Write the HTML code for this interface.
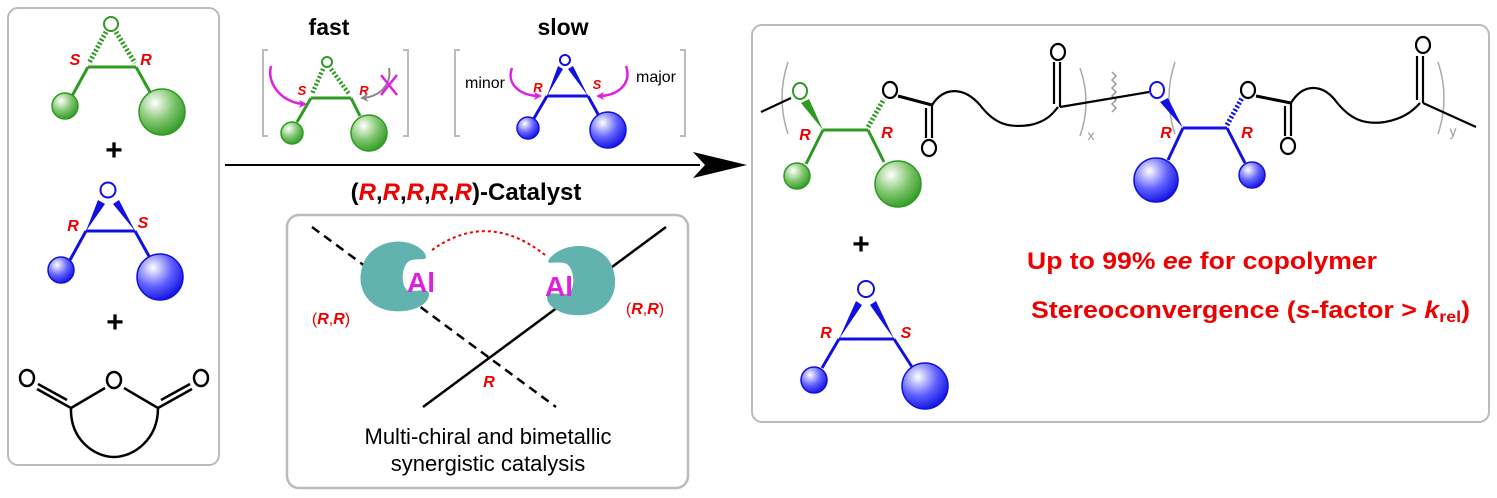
<!DOCTYPE html>
<html><head><meta charset="utf-8"><style>
html,body{margin:0;padding:0;background:#fff}
svg{display:block}
text{font-family:"Liberation Sans",Arial,sans-serif}
</style></head><body>
<svg width="1497" height="498" viewBox="0 0 1497 498" xmlns="http://www.w3.org/2000/svg">
<defs>
<radialGradient id="gg" cx="0.35" cy="0.3" r="0.75"><stop offset="0" stop-color="#fff"/><stop offset="0.55" stop-color="#7dc46a"/><stop offset="1" stop-color="#2f9a26"/></radialGradient>
<radialGradient id="bg" cx="0.35" cy="0.3" r="0.75"><stop offset="0" stop-color="#fff"/><stop offset="0.55" stop-color="#6060ff"/><stop offset="1" stop-color="#1010e0"/></radialGradient>
<marker id="mg" markerWidth="8" markerHeight="8" refX="6" refY="4" orient="auto" markerUnits="userSpaceOnUse"><path d="M0,0 L8,4 L0,8 L2,4z" fill="#e020e0"/></marker>
<marker id="gr" markerWidth="8" markerHeight="8" refX="6" refY="4" orient="auto" markerUnits="userSpaceOnUse"><path d="M0,0 L8,4 L0,8 L2,4z" fill="#888"/></marker>
</defs>

<!-- boxes -->
<rect x="8" y="8" width="211" height="457" rx="10" fill="none" stroke="#bbb" stroke-width="2"/>
<rect x="752" y="25" width="737" height="397" rx="10" fill="none" stroke="#bbb" stroke-width="2"/>
<rect x="287" y="215" width="401" height="273" rx="12" fill="none" stroke="#bbb" stroke-width="2.5"/>

<!-- left green epoxide -->
<g stroke="#2e9a22" stroke-width="3" fill="none">
<circle cx="111" cy="24" r="7" stroke-width="2"/>
<line x1="88" y1="67" x2="136" y2="67"/>
<line x1="88" y1="67" x2="72" y2="96"/>
<line x1="136" y1="67" x2="150" y2="92"/>
<line x1="106" y1="32" x2="89" y2="63" stroke-width="5" stroke-dasharray="2,2"/>
<line x1="116" y1="32" x2="135" y2="63" stroke-width="5" stroke-dasharray="2,2"/>
</g>
<circle cx="65" cy="106" r="13" fill="url(#gg)" stroke="#2e9a22" stroke-width="1.5"/>
<circle cx="162" cy="112" r="23" fill="url(#gg)" stroke="#2e9a22" stroke-width="1.5"/>
<text x="75" y="65" fill="#e00" font-size="16" font-weight="bold" font-style="italic" text-anchor="middle">S</text>
<text x="146" y="65" fill="#e00" font-size="16" font-weight="bold" font-style="italic" text-anchor="middle">R</text>
<text x="114" y="160" font-size="30" font-weight="bold" text-anchor="middle">+</text>

<!-- left blue epoxide -->
<g stroke="#1010e0" stroke-width="3" fill="none">
<circle cx="108" cy="190" r="7.5" stroke-width="2"/>
<line x1="86" y1="231" x2="135" y2="231"/>
<line x1="86" y1="231" x2="70" y2="260"/>
<line x1="135" y1="231" x2="150" y2="258"/>
</g>
<polygon points="86,231 98,200 105,204" fill="#1010e0"/>
<polygon points="135,231 113,204 119,200" fill="#1010e0"/>
<circle cx="61" cy="270" r="13" fill="url(#bg)" stroke="#1010e0" stroke-width="1.5"/>
<circle cx="160" cy="277" r="23" fill="url(#bg)" stroke="#1010e0" stroke-width="1.5"/>
<text x="73" y="231" fill="#e00" font-size="16" font-weight="bold" font-style="italic" text-anchor="middle">R</text>
<text x="143" y="228" fill="#e00" font-size="16" font-weight="bold" font-style="italic" text-anchor="middle">S</text>
<text x="115" y="332" font-size="30" font-weight="bold" text-anchor="middle">+</text>

<!-- anhydride -->
<g stroke="#000" stroke-width="2.5" fill="none">
<ellipse cx="27" cy="378" rx="7" ry="8"/>
<ellipse cx="114" cy="380" rx="7" ry="8"/>
<ellipse cx="201" cy="378" rx="7" ry="8"/>
<line x1="71" y1="408" x2="105" y2="388"/>
<line x1="158" y1="408" x2="124" y2="388"/>
<line x1="71" y1="408" x2="37" y2="389"/>
<line x1="67" y1="400" x2="38" y2="384"/>
<line x1="158" y1="408" x2="192" y2="389"/>
<line x1="161" y1="400" x2="190" y2="384"/>
<path d="M71,408 C70,440 95,457 114,457 C133,457 158,440 158,408"/>
</g>

<!-- fast / slow -->
<text x="329" y="35" font-size="23" font-weight="bold" text-anchor="middle">fast</text>
<text x="563" y="35" font-size="23" font-weight="bold" text-anchor="middle">slow</text>
<g stroke="#bbb" stroke-width="2" fill="none">
<polyline points="268,50 263,50 263,136 268,136"/>
<polyline points="403,50 408,50 408,136 403,136"/>
<polyline points="460,50 455,50 455,136 460,136"/>
<polyline points="680,50 685,50 685,136 680,136"/>
</g>
<g stroke="#2e9a22" stroke-width="3" fill="none">
<circle cx="327" cy="62" r="5" stroke-width="2"/>
<line x1="311" y1="98" x2="351" y2="98"/>
<line x1="311" y1="98" x2="297" y2="122"/>
<line x1="351" y1="98" x2="360" y2="116"/>
<line x1="323" y1="69" x2="312" y2="94" stroke-width="4.5" stroke-dasharray="2,2"/>
<line x1="331" y1="69" x2="349" y2="94" stroke-width="4.5" stroke-dasharray="2,2"/>
</g>
<circle cx="292" cy="133" r="11" fill="url(#gg)" stroke="#2e9a22" stroke-width="1.5"/>
<circle cx="369" cy="133" r="18" fill="url(#gg)" stroke="#2e9a22" stroke-width="1.5"/>
<text x="302" y="95" fill="#e00" font-size="13" font-weight="bold" font-style="italic" text-anchor="middle">S</text>
<text x="364" y="95" fill="#e00" font-size="13" font-weight="bold" font-style="italic" text-anchor="middle">R</text>
<path d="M271,66 C266,86 285,104 305,104" stroke="#e020e0" stroke-width="2.5" fill="none" marker-end="url(#mg)"/>
<path d="M389,68 C392,84 380,97 362,98" stroke="#888" stroke-width="2" fill="none" marker-end="url(#gr)"/>
<line x1="381" y1="75" x2="397" y2="95" stroke="#e020e0" stroke-width="2.5"/>
<line x1="397" y1="75" x2="381" y2="95" stroke="#e020e0" stroke-width="2.5"/>

<g stroke="#1010e0" stroke-width="3" fill="none">
<circle cx="565" cy="60" r="5" stroke-width="2"/>
<line x1="547" y1="96" x2="588" y2="96"/>
<line x1="547" y1="96" x2="533" y2="120"/>
<line x1="588" y1="96" x2="599" y2="116"/>
</g>
<polygon points="547,96 558,66 563,69" fill="#1010e0"/>
<polygon points="588,96 568,69 573,66" fill="#1010e0"/>
<circle cx="528" cy="128" r="11" fill="url(#bg)" stroke="#1010e0" stroke-width="1.5"/>
<circle cx="608" cy="130" r="18" fill="url(#bg)" stroke="#1010e0" stroke-width="1.5"/>
<text x="538" y="92" fill="#e00" font-size="13" font-weight="bold" font-style="italic" text-anchor="middle">R</text>
<text x="597" y="89" fill="#e00" font-size="13" font-weight="bold" font-style="italic" text-anchor="middle">S</text>
<text x="485" y="88" font-size="16" text-anchor="middle">minor</text>
<text x="656" y="82" font-size="16" text-anchor="middle">major</text>
<path d="M512,68 C506,84 520,96 540,96" stroke="#e020e0" stroke-width="2.5" fill="none" marker-end="url(#mg)"/>
<path d="M626,66 C632,84 618,96 598,96" stroke="#e020e0" stroke-width="2.5" fill="none" marker-end="url(#mg)"/>

<!-- main arrow -->
<line x1="225" y1="165" x2="700" y2="165" stroke="#000" stroke-width="2"/>
<polygon points="747,165 693,152 705,165 693,178" fill="#000"/>
<text x="466" y="200" font-size="24" font-weight="bold" text-anchor="middle">(<tspan fill="#e00" font-style="italic">R</tspan>,<tspan fill="#e00" font-style="italic">R</tspan>,<tspan fill="#e00" font-style="italic">R</tspan>,<tspan fill="#e00" font-style="italic">R</tspan>,<tspan fill="#e00" font-style="italic">R</tspan>)-Catalyst</text>

<!-- catalyst box -->
<line x1="312" y1="227" x2="556" y2="407" stroke="#000" stroke-width="2.5" stroke-dasharray="9,6"/>
<line x1="423" y1="407" x2="666" y2="227" stroke="#000" stroke-width="2.5"/>
<path d="M432,250 Q488,210 545,255" stroke="#e00" stroke-width="2" fill="none" stroke-dasharray="3,3"/>
<path d="M424,252 C410,236 375,238 364,262 C354,285 366,308 392,311 C412,313 428,305 429,295 C430,288 420,291 410,291 C400,291 400,262 412,260 C422,258 430,262 424,252z" fill="#62b2b0"/>
<path d="M550,258 C566,240 602,242 612,266 C621,289 610,312 584,315 C564,317 548,308 547,298 C546,291 556,294 566,294 C576,294 576,265 564,263 C554,261 544,266 550,258z" fill="#62b2b0"/>
<text x="421" y="292" fill="#e020e0" font-size="28" font-weight="bold" text-anchor="middle">Al</text>
<text x="559" y="296" fill="#e020e0" font-size="28" font-weight="bold" text-anchor="middle">Al</text>
<text x="331" y="324" fill="#e00" font-size="16" text-anchor="middle">(<tspan font-weight="bold" font-style="italic">R</tspan>,<tspan font-weight="bold" font-style="italic">R</tspan>)</text>
<text x="645" y="314" fill="#e00" font-size="16" text-anchor="middle">(<tspan font-weight="bold" font-style="italic">R</tspan>,<tspan font-weight="bold" font-style="italic">R</tspan>)</text>
<text x="489" y="387" fill="#e00" font-size="16" font-weight="bold" font-style="italic" text-anchor="middle">R</text>
<text x="488" y="444" font-size="22" text-anchor="middle">Multi-chiral and bimetallic</text>
<text x="488" y="471" font-size="22" text-anchor="middle">synergistic catalysis</text>

<!-- polymer -->
<g stroke="#aaa" stroke-width="1.5" fill="none">
<path d="M788,62 Q776,98 788,134"/>
<path d="M1080,68 Q1092,102 1080,136"/>
<path d="M1175,62 Q1163,98 1175,134"/>
<path d="M1438,62 Q1450,98 1438,134"/>
<path d="M1112,72 l4,4 l-4,4 l4,4 l-4,4 l4,4 l-4,4 l4,4 l-4,4 l4,4 l-4,4" stroke="#999"/>
</g>
<text x="1091" y="140" fill="#999" font-size="14" text-anchor="middle">x</text>
<text x="1453" y="136" fill="#999" font-size="14" text-anchor="middle">y</text>
<g stroke="#000" stroke-width="2.2" fill="none">
<line x1="761" y1="112" x2="791" y2="98"/>
<ellipse cx="890" cy="90" rx="7" ry="8"/>
<line x1="898" y1="96" x2="932" y2="105" stroke-width="3"/>
<line x1="932" y1="105" x2="932" y2="138"/>
<line x1="926" y1="108" x2="926" y2="138"/>
<ellipse cx="929" cy="148" rx="7" ry="8"/>
<path d="M932,105 C945,85 965,88 980,105 C995,125 1010,128 1030,125 C1045,122 1052,115 1058,107"/>
<line x1="1060" y1="107" x2="1060" y2="62"/>
<line x1="1054" y1="104" x2="1054" y2="62"/>
<ellipse cx="1058" cy="52" rx="7" ry="8"/>
<line x1="1060" y1="107" x2="1149" y2="92"/>
<ellipse cx="1248" cy="90" rx="7" ry="8"/>
<line x1="1256" y1="96" x2="1291" y2="103" stroke-width="3"/>
<line x1="1291" y1="103" x2="1291" y2="136"/>
<line x1="1285" y1="106" x2="1285" y2="136"/>
<ellipse cx="1288" cy="146" rx="7" ry="8"/>
<path d="M1291,103 C1303,83 1322,84 1335,100 C1350,120 1365,125 1385,122 C1402,119 1412,112 1420,103"/>
<line x1="1423" y1="103" x2="1423" y2="56"/>
<line x1="1417" y1="100" x2="1417" y2="56"/>
<ellipse cx="1423" cy="45" rx="7" ry="8"/>
<line x1="1423" y1="103" x2="1476" y2="127"/>
</g>
<g stroke="#2e9a22" stroke-width="3" fill="none">
<ellipse cx="800" cy="91" rx="7" ry="8" stroke-width="2"/>
<line x1="823" y1="130" x2="868" y2="130"/>
<line x1="823" y1="130" x2="806" y2="164"/>
<line x1="868" y1="130" x2="884" y2="162"/>
<line x1="868" y1="127" x2="884" y2="99" stroke-width="5" stroke-dasharray="2,2"/>
</g>
<polygon points="823,130 801,103 809,99" fill="#2e9a22"/>
<circle cx="797" cy="176" r="13" fill="url(#gg)" stroke="#2e9a22" stroke-width="1.5"/>
<circle cx="898" cy="184" r="23" fill="url(#gg)" stroke="#2e9a22" stroke-width="1.5"/>
<text x="805" y="140" fill="#e00" font-size="16" font-weight="bold" font-style="italic" text-anchor="middle">R</text>
<text x="887" y="138" fill="#e00" font-size="16" font-weight="bold" font-style="italic" text-anchor="middle">R</text>
<g stroke="#1010e0" stroke-width="3" fill="none">
<ellipse cx="1157" cy="90" rx="7" ry="8" stroke-width="2"/>
<line x1="1183" y1="128" x2="1227" y2="128"/>
<line x1="1183" y1="128" x2="1168" y2="160"/>
<line x1="1227" y1="128" x2="1245" y2="163"/>
<line x1="1227" y1="125" x2="1242" y2="98" stroke-width="5" stroke-dasharray="2,2"/>
</g>
<polygon points="1183,128 1160,102 1168,98" fill="#1010e0"/>
<circle cx="1156" cy="180" r="22" fill="url(#bg)" stroke="#1010e0" stroke-width="1.5"/>
<circle cx="1252" cy="175" r="13" fill="url(#bg)" stroke="#1010e0" stroke-width="1.5"/>
<text x="1166" y="138" fill="#e00" font-size="16" font-weight="bold" font-style="italic" text-anchor="middle">R</text>
<text x="1247" y="138" fill="#e00" font-size="16" font-weight="bold" font-style="italic" text-anchor="middle">R</text>

<!-- lower right -->
<text x="861" y="254" font-size="30" font-weight="bold" text-anchor="middle">+</text>
<g stroke="#1010e0" stroke-width="3" fill="none">
<circle cx="866" cy="289" r="8" stroke-width="2"/>
<line x1="839" y1="339" x2="894" y2="339"/>
<line x1="839" y1="339" x2="822" y2="368"/>
<line x1="894" y1="339" x2="912" y2="367"/>
</g>
<polygon points="839,339 856,301 862,305" fill="#1010e0"/>
<polygon points="894,339 870,305 876,301" fill="#1010e0"/>
<circle cx="814" cy="380" r="13" fill="url(#bg)" stroke="#1010e0" stroke-width="1.5"/>
<circle cx="925" cy="386" r="23" fill="url(#bg)" stroke="#1010e0" stroke-width="1.5"/>
<text x="826" y="338" fill="#e00" font-size="16" font-weight="bold" font-style="italic" text-anchor="middle">R</text>
<text x="906" y="338" fill="#e00" font-size="16" font-weight="bold" font-style="italic" text-anchor="middle">S</text>

<text x="1027" y="269" fill="#e00" font-size="24" font-weight="bold" textLength="350" lengthAdjust="spacingAndGlyphs">Up to 99% <tspan font-style="italic">ee</tspan> for copolymer</text>
<text x="1031" y="318" fill="#e00" font-size="24" font-weight="bold" textLength="439" lengthAdjust="spacingAndGlyphs">Stereoconvergence (<tspan font-style="italic">s</tspan>-factor &gt; <tspan font-style="italic">k</tspan><tspan font-size="16" dy="4">rel</tspan><tspan dy="-4">)</tspan></text>
</svg>
</body></html>
